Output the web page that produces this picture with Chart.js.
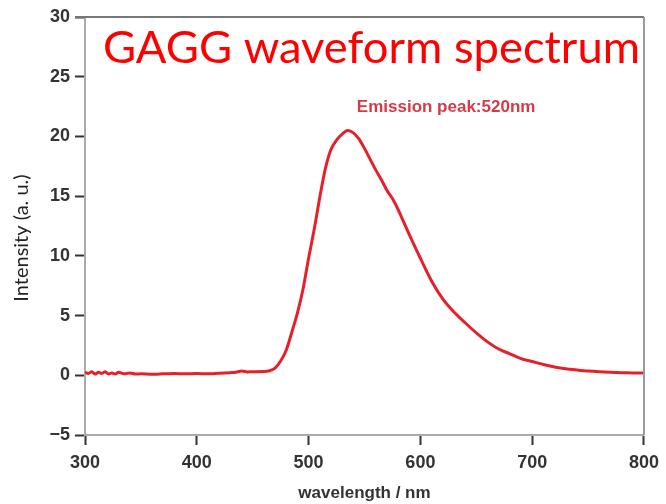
<!DOCTYPE html>
<html>
<head>
<meta charset="utf-8">
<script src="https://cdn.jsdelivr.net/npm/chart.js@4"></script>
<style>
  html, body { margin: 0; padding: 0; background: #fff; }
  #wrap { width: 666px; height: 504px; }
</style>
</head>
<body>
<div id="wrap"><canvas id="myChart" width="666" height="504"></canvas></div>
<script>
// wavelengths (nm) and intensity (a. u.)
const wavelengths = [300, 303, 306, 309, 312, 315, 318, 321, 324, 327, 330, 335, 340, 345, 350, 360, 370, 380, 390, 400, 410, 420, 430, 435, 440, 445, 450, 460, 465, 470, 475, 480, 485, 490, 495, 500, 505, 510, 515, 520, 525, 530, 535, 540, 545, 550, 555, 560, 565, 570, 575, 580, 590, 600, 610, 620, 630, 640, 650, 660, 670, 680, 690, 700, 710, 720, 730, 740, 750, 760, 770, 780, 790, 800];
const intensity = [0.25, 0.15, 0.3, 0.1, 0.25, 0.15, 0.3, 0.1, 0.2, 0.1, 0.25, 0.12, 0.2, 0.1, 0.12, 0.08, 0.12, 0.15, 0.12, 0.15, 0.12, 0.18, 0.22, 0.25, 0.35, 0.28, 0.3, 0.32, 0.38, 0.6, 1.2, 2.1, 3.6, 5.2, 7.2, 9.8, 12.2, 14.9, 17.3, 18.9, 19.7, 20.2, 20.5, 20.3, 19.8, 19.0, 18.1, 17.2, 16.4, 15.5, 14.8, 13.9, 11.8, 9.8, 7.9, 6.4, 5.3, 4.4, 3.55, 2.8, 2.2, 1.8, 1.4, 1.15, 0.9, 0.7, 0.55, 0.45, 0.36, 0.3, 0.26, 0.22, 0.2, 0.2];

const xTicks = [300, 400, 500, 600, 700, 800];
const yTicks = [-5, 0, 5, 10, 15, 20, 25, 30];

const chartTitle = "GAGG waveform spectrum";
const peakLabel = "Emission peak:520nm";
const xTitle = "wavelength / nm";
const yTitle = "Intensity (a. u.)";

const points = wavelengths.map((w, i) => ({ x: w, y: intensity[i] }));

// draws the frame (top/right), the big red title and the peak note
const overlay = {
    id: "overlay",
    afterDraw(chart) {
        const { ctx, chartArea } = chart;
        ctx.save();
        // top and right frame lines
        ctx.strokeStyle = "#777";
        ctx.lineWidth = 2;
        ctx.beginPath();
        ctx.moveTo(chartArea.left - 10, chartArea.top);
        ctx.lineTo(chartArea.right, chartArea.top);
        ctx.stroke();
        ctx.strokeStyle = "#999";
        ctx.beginPath();
        ctx.moveTo(chartArea.right, chartArea.top);
        ctx.lineTo(chartArea.right, chartArea.bottom);
        ctx.stroke();

        // big title inside the plot
        ctx.fillStyle = "#ff0000";
        ctx.font = "44px Lato";
        ctx.textBaseline = "alphabetic";
        const w = ctx.measureText(chartTitle).width;
        const target = 537;
        ctx.save();
        ctx.translate(103, 63);
        ctx.scale(target / w, 1);
        ctx.fillText(chartTitle, 0, 0);
        ctx.restore();

        // peak note
        const xs = chart.scales.x, ys = chart.scales.y;
        ctx.fillStyle = "#d63a48";
        ctx.font = "bold 17px 'Liberation Sans'";
        ctx.textAlign = "center";
        ctx.fillText(peakLabel, xs.getPixelForValue(623), 112);

        // y axis title
        ctx.fillStyle = "#222";
        ctx.font = "20px Lato";
        ctx.translate(22, 238);
        ctx.rotate(-Math.PI / 2);
        ctx.textBaseline = "middle";
        ctx.fillText(yTitle, 0, 0);
        ctx.restore();
    }
};

const config = {
    type: "line",
    data: {
        datasets: [{
            data: points,
            borderColor: "#e5202b",
            borderWidth: 3,
            pointRadius: 0,
            tension: 0.25,
            fill: false,
        }],
    },
    options: {
        responsive: false,
        animation: false,
        layout: { padding: { left: 0, right: 22, top: 17, bottom: 0 } },
        plugins: {
            legend: { display: false },
            tooltip: { enabled: false },
        },
        scales: {
            x: {
                type: "linear",
                min: 300,
                max: 800,
                afterBuildTicks: (s) => { s.ticks = xTicks.map(v => ({ value: v })); },
                afterFit: (s) => { s.height = 69; },
                border: { color: "#aaa", width: 2 },
                grid: { drawOnChartArea: false, tickLength: 10, tickColor: "#333", tickWidth: 2 },
                ticks: {
                    padding: 7,
                    color: "#333",
                    font: { family: "'Liberation Sans'", size: 18, weight: "bold" },
                },
                title: {
                    display: true,
                    text: xTitle,
                    color: "#333",
                    font: { family: "'Liberation Sans'", size: 17, weight: "bold" },
                    padding: { top: 0, bottom: 0 },
                },
            },
            y: {
                min: -5,
                max: 30,
                afterBuildTicks: (s) => { s.ticks = yTicks.map(v => ({ value: v })); },
                afterFit: (s) => { s.width = 85; },
                border: { color: "#aaa", width: 2 },
                grid: { drawOnChartArea: false, tickLength: 10, tickColor: "#333", tickWidth: 2 },
                ticks: {
                    padding: 5,
                    color: "#333",
                    font: { family: "'Liberation Sans'", size: 18, weight: "bold" },
                    callback: (v) => String(v).replace("-", "\u2212"),
                },
            },
        },
    },
    plugins: [overlay],
};

const myChart = new Chart(document.getElementById("myChart"), config);
</script>
</body>
</html>
